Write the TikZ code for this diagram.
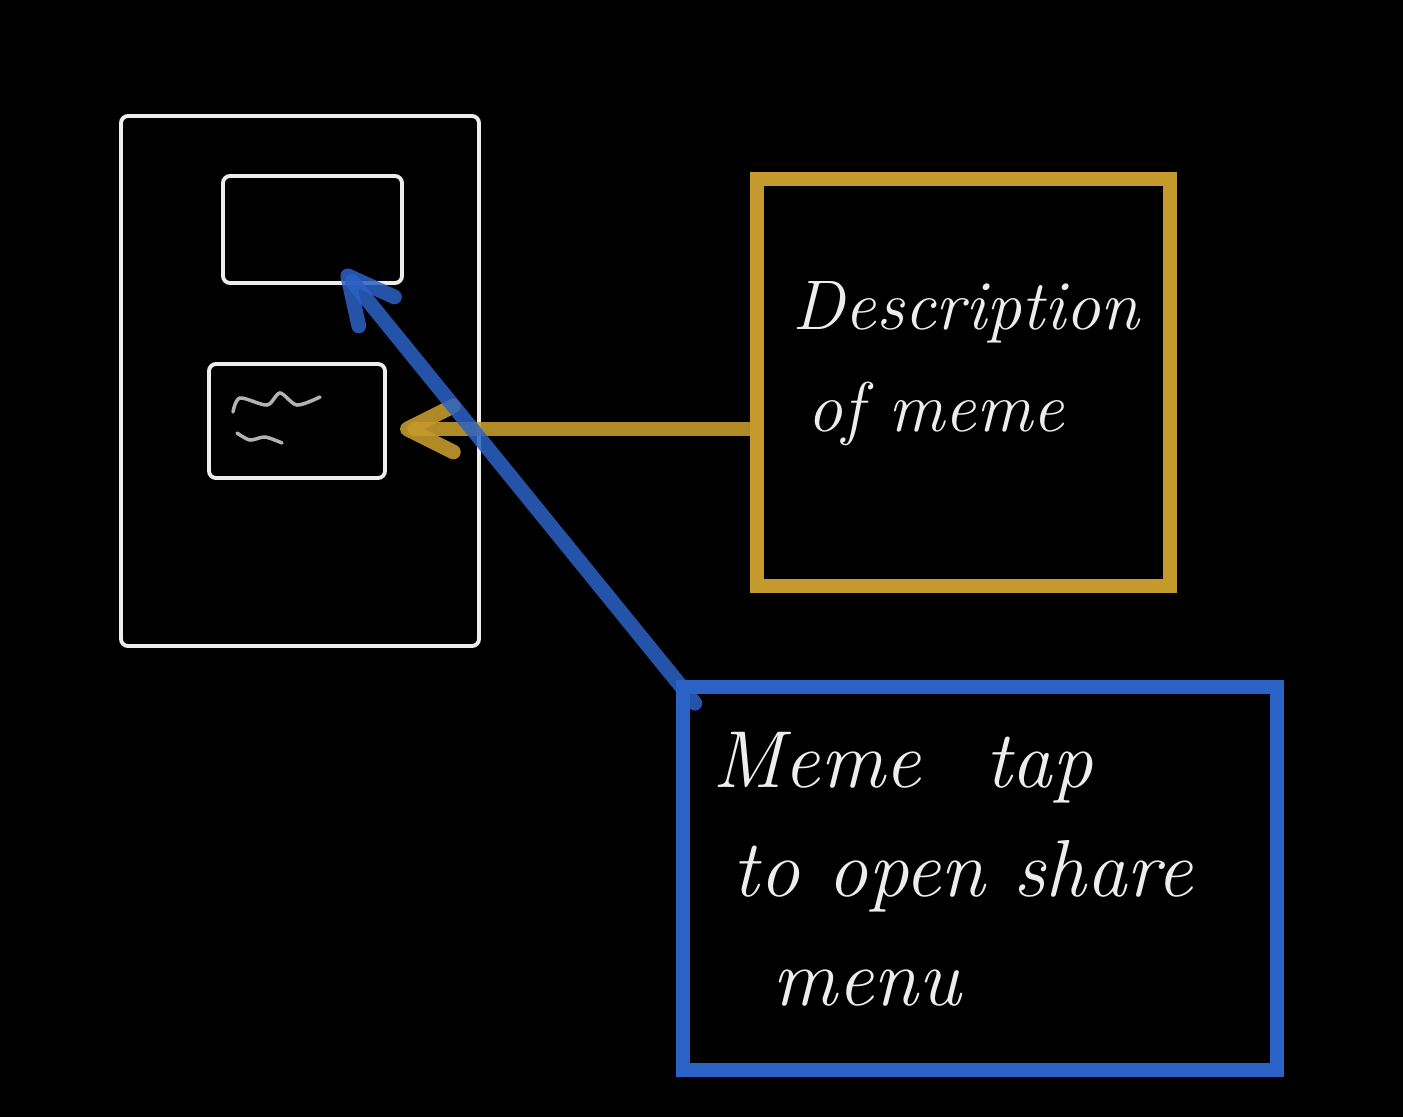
\documentclass[tikz,border=0pt]{standalone}
\usetikzlibrary{arrows.meta, positioning, calc}
\definecolor{cgold}{HTML}{C49A2C}
\definecolor{cblue}{HTML}{2B62C6}
\definecolor{cchalk}{HTML}{EDEDED}
\tikzset{
  every picture/.style={line width=1pt},
  chalk/.style={draw=cchalk, line width=1.1pt, rounded corners=2pt, inner sep=0pt},
  frame/.style={draw=#1, line width=4pt, inner sep=0pt},
  note/.style={text=cchalk, font=\itshape, align=left, inner sep=0pt},
  pointer/.style={-{Straight Barb[length=4.6mm, width=4.6mm, round]}, draw=#1, line width=4.2pt, line cap=round},
  squiggle/.style={draw=cchalk!75!black, line width=1pt, line cap=round},
}

\begin{document}
\begin{tikzpicture}
  \fill[black] (0,0) rectangle (14.03,-11.17);
  \useasboundingbox (0,0) rectangle (14.03,-11.17);

  % phone sketch
  \node[chalk, minimum width=3.58cm, minimum height=5.30cm] (phone) at (3.00,-3.81) {};
  \node[chalk, minimum width=1.79cm, minimum height=1.07cm] (imgbox) at (3.125,-2.295) {};
  \node[chalk, minimum width=1.76cm, minimum height=1.14cm] (captionbox) at (2.97,-4.21) {};
  \draw[squiggle] plot[smooth] coordinates {(2.33,-4.12) (2.40,-3.98) (2.67,-4.05) (2.80,-3.93) (2.97,-4.05) (3.20,-3.97)};
  \draw[squiggle] plot[smooth] coordinates {(2.37,-4.33) (2.50,-4.40) (2.65,-4.37) (2.82,-4.43)};

  % callout boxes
  \node[frame=cgold, minimum width=4.13cm, minimum height=4.07cm] (descbox) at (9.635,-3.825) {};
  \node[note, font=\itshape\fontsize{20}{29}\selectfont, below right=1.08cm and 0.41cm of descbox.north west] (desctext) {Description\\\hspace{1.5mm}of meme};
  \node[frame=cblue, minimum width=5.94cm, minimum height=3.83cm] (tapbox) at (9.80,-8.785) {};
  \node[note, font=\itshape\fontsize{23}{31}\selectfont, below right=0.51cm and 0.35cm of tapbox.north west] (taptext) {Meme\hspace{0.8em}tap\\\hspace{2mm}to open share\\\hspace{6mm}menu};

  % pointers
  \coordinate (goldtip) at (4.00,-4.29);
  \coordinate (bluetip) at (3.43,-2.70);
  \draw[pointer=cgold, opacity=0.9] (descbox.west |- goldtip) -- (goldtip);
  \draw[pointer=cblue, opacity=0.85, shorten <=-3mm] (tapbox.north west) -- (bluetip);
\end{tikzpicture}
\end{document}
